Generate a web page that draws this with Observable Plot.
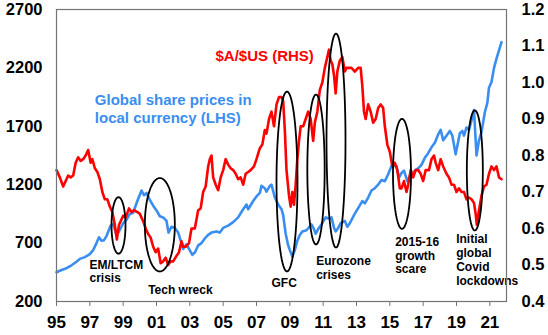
<!DOCTYPE html>
<html><head><meta charset="utf-8">
<script src="https://cdn.jsdelivr.net/npm/d3@7"></script>
<script src="https://cdn.jsdelivr.net/npm/@observablehq/plot@0.6"></script>
<style>
body{margin:0;background:#fff}
#chart svg{font-family:Arial,"Liberation Sans",sans-serif;font-weight:bold}
</style>
</head><body><div id="chart"></div>
<script>
// Global share prices in local currency (LHS)
const shareYears = [1995.0,1995.3,1995.6,1995.9,1996.2,1996.4,1996.7,1997.0,1997.2,1997.4,1997.55,1997.7,1997.85,1998.0,1998.25,1998.4,1998.6,1998.75,1999.0,1999.2,1999.4,1999.6,1999.85,2000.1,2000.25,2000.4,2000.6,2000.8,2001.0,2001.2,2001.4,2001.6,2001.72,2001.9,2002.1,2002.3,2002.5,2002.6,2002.8,2002.95,2003.15,2003.3,2003.5,2003.7,2003.9,2004.1,2004.3,2004.6,2004.8,2005.0,2005.3,2005.6,2005.9,2006.2,2006.4,2006.5,2006.8,2007.0,2007.2,2007.3,2007.5,2007.6,2007.8,2007.9,2008.1,2008.3,2008.5,2008.6,2008.75,2008.9,2009.0,2009.15,2009.3,2009.45,2009.6,2009.75,2010.0,2010.3,2010.45,2010.55,2010.7,2010.9,2011.15,2011.35,2011.5,2011.65,2011.75,2011.9,2012.05,2012.3,2012.45,2012.6,2012.85,2013.1,2013.35,2013.5,2013.7,2013.9,2014.1,2014.3,2014.5,2014.7,2014.9,2015.1,2015.4,2015.55,2015.7,2015.85,2016.05,2016.25,2016.5,2016.7,2016.9,2017.1,2017.3,2017.5,2017.7,2017.9,2018.05,2018.2,2018.4,2018.6,2018.75,2018.95,2019.2,2019.35,2019.45,2019.6,2019.75,2019.9,2020.05,2020.2,2020.35,2020.5,2020.7,2020.85,2020.95,2021.1,2021.25,2021.4,2021.55,2021.7];
const shareValues = [450,470,485,510,540,565,580,605,640,700,750,720,725,760,850,860,770,800,870,900,950,960,1060,1150,1110,1130,1070,1020,980,930,920,890,790,840,830,790,700,650,690,650,600,620,680,700,740,770,790,800,790,830,850,880,920,990,1030,990,1060,1100,1130,1190,1170,1140,1190,1200,1090,1030,990,940,780,680,640,585,640,720,770,800,810,860,820,780,820,860,920,910,920,830,800,830,870,890,840,870,940,1000,1060,1040,1090,1150,1170,1200,1240,1230,1290,1360,1360,1260,1300,1320,1230,1290,1320,1340,1370,1430,1470,1520,1560,1630,1670,1580,1620,1660,1620,1460,1640,1660,1620,1690,1670,1750,1840,1450,1580,1650,1820,1900,2030,2080,2200,2280,2350,2420];

// $A/$US (RHS)
const audYears = [1995.0,1995.2,1995.4,1995.55,1995.7,1995.85,1996.0,1996.15,1996.3,1996.45,1996.6,1996.75,1996.9,1997.05,1997.15,1997.3,1997.45,1997.6,1997.75,1997.9,1998.05,1998.2,1998.35,1998.5,1998.62,1998.75,1998.85,1999.0,1999.15,1999.35,1999.5,1999.65,1999.85,2000.0,2000.2,2000.35,2000.5,2000.65,2000.8,2000.95,2001.1,2001.25,2001.4,2001.55,2001.7,2001.85,2002.0,2002.2,2002.35,2002.5,2002.6,2002.75,2002.95,2003.1,2003.3,2003.5,2003.65,2003.8,2003.95,2004.1,2004.2,2004.3,2004.4,2004.55,2004.7,2004.85,2005.0,2005.15,2005.3,2005.45,2005.6,2005.75,2005.9,2006.05,2006.2,2006.35,2006.5,2006.65,2006.85,2007.0,2007.2,2007.35,2007.5,2007.6,2007.75,2007.9,2008.05,2008.2,2008.35,2008.5,2008.6,2008.7,2008.8,2008.95,2009.05,2009.15,2009.25,2009.35,2009.45,2009.55,2009.65,2009.8,2009.95,2010.1,2010.25,2010.4,2010.5,2010.65,2010.8,2010.95,2011.1,2011.25,2011.35,2011.45,2011.55,2011.65,2011.75,2011.85,2012.0,2012.15,2012.3,2012.4,2012.55,2012.7,2012.9,2013.1,2013.25,2013.35,2013.45,2013.55,2013.7,2013.85,2014.0,2014.15,2014.3,2014.45,2014.6,2014.7,2014.85,2015.0,2015.15,2015.3,2015.45,2015.6,2015.7,2015.85,2016.0,2016.1,2016.25,2016.4,2016.55,2016.7,2016.85,2017.0,2017.15,2017.35,2017.5,2017.65,2017.75,2017.9,2018.05,2018.2,2018.4,2018.55,2018.7,2018.85,2019.0,2019.15,2019.3,2019.45,2019.6,2019.75,2019.9,2020.05,2020.15,2020.22,2020.35,2020.5,2020.65,2020.8,2020.95,2021.1,2021.25,2021.4,2021.55,2021.7];
const audValues = [0.76,0.74,0.715,0.73,0.745,0.74,0.745,0.78,0.795,0.785,0.79,0.80,0.815,0.78,0.79,0.765,0.755,0.735,0.70,0.68,0.68,0.66,0.645,0.61,0.57,0.61,0.62,0.635,0.63,0.655,0.645,0.65,0.645,0.64,0.62,0.60,0.585,0.575,0.55,0.535,0.545,0.505,0.51,0.52,0.50,0.51,0.51,0.525,0.535,0.565,0.55,0.55,0.56,0.60,0.60,0.65,0.655,0.70,0.715,0.77,0.79,0.80,0.74,0.72,0.705,0.74,0.76,0.79,0.775,0.765,0.76,0.75,0.735,0.74,0.72,0.75,0.755,0.76,0.77,0.79,0.82,0.83,0.87,0.86,0.90,0.92,0.88,0.94,0.96,0.96,0.95,0.87,0.76,0.69,0.66,0.70,0.665,0.72,0.79,0.84,0.88,0.88,0.90,0.92,0.90,0.84,0.89,0.92,0.98,1.00,1.04,1.07,1.09,1.06,1.05,1.02,0.97,1.03,1.06,1.07,1.03,1.04,1.04,1.04,1.03,1.04,1.04,0.99,0.92,0.90,0.94,0.92,0.89,0.90,0.93,0.94,0.93,0.88,0.83,0.81,0.77,0.78,0.76,0.71,0.71,0.73,0.70,0.72,0.76,0.74,0.76,0.76,0.75,0.73,0.76,0.76,0.79,0.80,0.78,0.76,0.79,0.77,0.75,0.74,0.72,0.72,0.70,0.71,0.70,0.70,0.68,0.685,0.68,0.67,0.64,0.61,0.65,0.69,0.715,0.72,0.75,0.77,0.76,0.77,0.74,0.735];

// Axis ticks
const xTicks = [1995,1997,1999,2001,2003,2005,2007,2009,2011,2013,2015,2017,2019,2021];
const leftTicks = [200,700,1200,1700,2200,2700];
const rightTicks = [0.4,0.5,0.6,0.7,0.8,0.9,1.0,1.1,1.2];

// Episode annotations: ellipse centre (year, LHS value), half-width (years), half-height (LHS units)
const episodeNames = ["EM/LTCM","Tech wreck","GFC","Eurozone 1","Eurozone 2","2015-16","Covid"];
const episodeCx = [1998.72,2001.2,2008.83,2010.57,2011.77,2015.73,2020.1];
const episodeCy = [851,857,1227,1330,1578,1293,1322];
const episodeRx = [0.42,0.9,0.63,0.52,0.57,0.54,0.48];
const episodeRy = [242,400,770,642,916,471,514];

// Annotation texts
const noteTexts = ["EM/LTCM\ncrisis","Tech wreck","GFC","Eurozone\ncrises","2015-16\ngrowth\nscare","Initial\nglobal\nCovid\nlockdowns"];
const noteX = [1996.98,2000.5,2007.9,2010.58,2015.32,2018.98];
const noteY = [461,303,360,491,597,558];

const RED = "#ff0000", BLUE = "#3a8ef0", GRAY = "#6f7579";
const toLeft = v => 200 + (v - 0.4) * 3125;
const fromLeft = d => (d - 200) / 3125 + 0.4;

const share = shareYears.map((x, i) => ({x, y: shareValues[i]}));
const aud = audYears.map((x, i) => ({x, y: toLeft(audValues[i])}));
const ellipses = [];
episodeNames.forEach((name, i) => {
  for (let k = 0; k <= 72; k++) {
    const t = k / 72 * 2 * Math.PI;
    ellipses.push({name, x: episodeCx[i] + episodeRx[i] * Math.cos(t), y: episodeCy[i] + episodeRy[i] * Math.sin(t)});
  }
});
const notes = noteTexts.map((text, i) => ({text, x: noteX[i], y: noteY[i]}));

const chart = Plot.plot({
  width: 548, height: 335,
  marginLeft: 56, marginRight: 42, marginTop: 9, marginBottom: 34,
  x: {domain: [1995, 2022]},
  y: {domain: [200, 2700]},
  style: {fontFamily: 'Arial, "Liberation Sans", sans-serif', fontWeight: "bold", color: "black", background: "white", overflow: "visible"},
  marks: [
    Plot.axisX(xTicks, {tickSize: 5, tickPadding: 9, fontSize: 17, stroke: GRAY, fill: "black", label: null,
      tickFormat: d => String(d % 100).padStart(2, "0")}),
    Plot.axisY(leftTicks, {anchor: "left", tickSize: 0, tickPadding: 14, fontSize: 16.5, fill: "black", label: null,
      tickFormat: d => String(d)}),
    Plot.axisY(rightTicks.map(toLeft), {anchor: "right", tickSize: 0, tickPadding: 15, fontSize: 16.5, fill: "black", label: null,
      tickFormat: d => fromLeft(d).toFixed(1)}),
    Plot.line(share, {x: "x", y: "y", stroke: BLUE, strokeWidth: 2.6}),
    Plot.line(aud, {x: "x", y: "y", stroke: RED, strokeWidth: 2.6}),
    Plot.line(ellipses, {x: "x", y: "y", z: "name", stroke: "black", strokeWidth: 1.8, curve: "linear"}),
    Plot.text(notes, {x: "x", y: "y", text: "text", textAnchor: "start", lineAnchor: "middle", fontSize: 12, lineHeight: 1.15, fill: "black"}),
    Plot.text(["$A/$US (RHS)"], {x: 2004.54, y: 2298, textAnchor: "start", fontSize: 15, fill: RED}),
    Plot.text(["Global share prices in\nlocal currency (LHS)"], {x: 1997.3, y: 1852, textAnchor: "start", lineAnchor: "middle", fontSize: 15, lineHeight: 1.15, fill: BLUE}),
    Plot.frame({stroke: GRAY, strokeWidth: 1.2})
  ]
});
document.getElementById("chart").appendChild(chart);
</script>
</body></html>
